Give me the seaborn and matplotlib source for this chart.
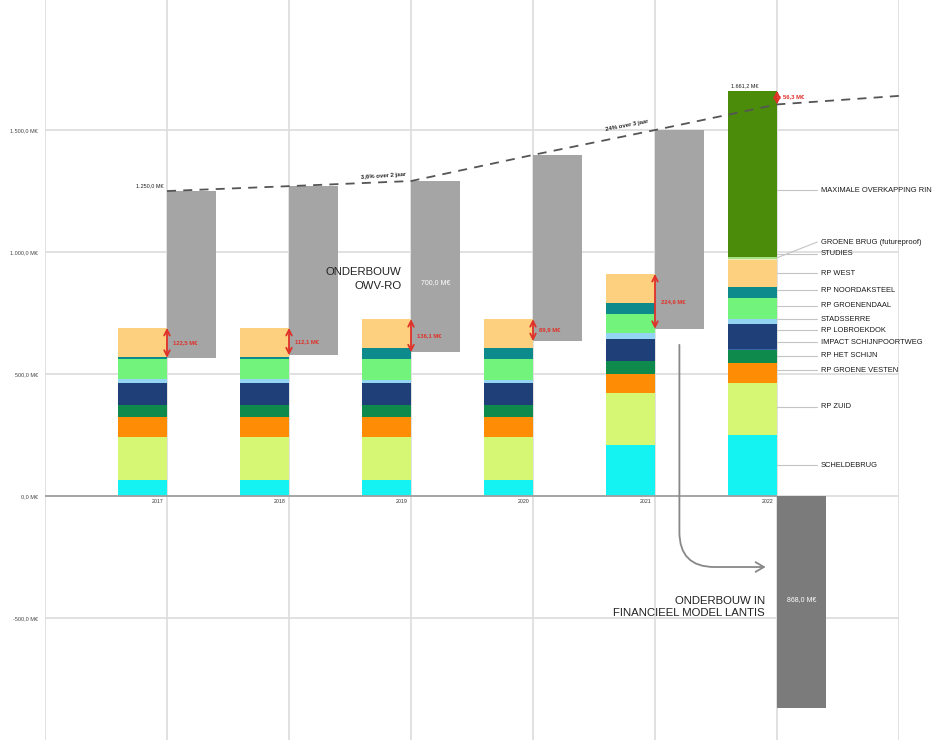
import matplotlib
matplotlib.use("Agg")
import matplotlib.pyplot as plt
import seaborn as sns
from matplotlib.patches import FancyArrowPatch

# data (M€)
years = ["2017", "2018", "2019", "2020", "2021", "2022"]
series = ["SCHELDEBRUG", "RP ZUID", "RP GROENE VESTEN", "RP HET SCHIJN",
          "IMPACT SCHIJNPOORTWEG", "RP LOBROEKDOK", "STADSSERRE", "RP GROENENDAAL",
          "RP NOORDAKSTEEL", "RP WEST", "STUDIES", "GROENE BRUG (futureproof)",
          "MAXIMALE OVERKAPPING RIN"]
scheldebrug = [66, 66, 66, 66, 209, 250]
rp_zuid = [176, 176, 176, 176, 213, 213]
groene_vesten = [82, 82, 82, 82, 78, 82]
het_schijn = [49, 49, 49, 49, 53, 52]
impact = [0, 0, 0, 0, 0, 5]
lobroekdok = [90, 90, 90, 90, 90, 103]
stadsserre = [17, 17, 12, 12, 25, 20]
groenendaal = [81, 81, 86, 86, 78, 86]
noordaksteel = [9, 9, 46, 46, 45, 46]
rp_west = [119, 119, 118, 118, 119, 110]
studies = [0, 0, 0, 0, 0, 6]
groene_brug = [0, 0, 0, 0, 0, 7]
overkapping = [0, 0, 0, 0, 0, 681]
values = [scheldebrug, rp_zuid, groene_vesten, het_schijn, impact, lobroekdok,
          stadsserre, groenendaal, noordaksteel, rp_west, studies, groene_brug,
          overkapping]

estimate_top = [1250, 1270, 1291, 1398, 1500]      # gray bars (2017-2021)
gap = [122.5, 112.1, 136.1, 89.9, 224.6, 56.3]      # red arrows
trend = [1250, 1270, 1291, 1398, 1500, 1605, 1640]  # dashed line
lantis = -868.0
total_2022 = 1661.2
onderbouw = 700.0

colors = ["#14f2f2", "#d5f773", "#ff8c05", "#0f8a4d", "#3b64a8", "#1f3f78",
          "#93d4f2", "#72f47c", "#0d8a8c", "#fcd07f", "#e9f0b0", "#a8e08a",
          "#4b8c0a"]
# label layout (y in data units) for the right-hand captions
label_y = [127, 365, 516, 574, 631, 680, 725, 779, 844, 914, 992, 1041, 1254]


def eur(v):
    s = f"{v:,.1f}".replace(",", "X").replace(".", ",").replace("X", ".")
    return s + " M€"


sns.set_theme(style="whitegrid")
plt.rcParams["font.family"] = ["Liberation Sans", "DejaVu Sans"]

fig = plt.figure(figsize=(9.47, 7.40), dpi=100)
ax = fig.add_axes([45 / 947, 0, 854 / 947, 1])

n = len(years)
stack_x = [i - 0.2 for i in range(n)]

# stacked bars: draw cumulative totals from the top down
cums = []
run = [0] * n
for v in values:
    run = [a + b for a, b in zip(run, v)]
    cums.append(run)
for k in range(len(values) - 1, -1, -1):
    sns.barplot(x=stack_x, y=cums[k], color=colors[k], width=0.4, native_scale=True,
                saturation=1, errorbar=None, linewidth=0, ax=ax)

totals = cums[-1]

# floating gray bars
for i in range(5):
    bottom = totals[i] - gap[i]
    ax.bar(i + 0.2, estimate_top[i] - bottom, bottom=bottom, width=0.4,
           color="#a5a5a5", linewidth=0, zorder=3)
ax.bar(5.2, lantis, width=0.4, color="#7b7b7b", linewidth=0, zorder=3)

# trend line
sns.lineplot(x=list(range(len(trend))), y=trend, color="#555555", lw=1.3,
             linestyle=(0, (5, 4)), ax=ax, zorder=4)

# red gap arrows
for i in range(6):
    top = totals[i] if i < 5 else total_2022
    ax.annotate("", xy=(i, top - gap[i]), xytext=(i, top),
                arrowprops=dict(arrowstyle="<->", color="#e03028", lw=1.3,
                                mutation_scale=10, shrinkA=0, shrinkB=0), zorder=5)
    ax.text(i + 0.05, top - gap[i] / 2 if i < 5 else 1638, eur(gap[i]),
            color="#e03028", fontsize=4.2, fontweight="bold", va="center", zorder=6)

# annotations
ax.text(-0.03, 1262, eur(trend[0]), fontsize=4, ha="right", va="bottom", color="#222222")
ax.text(4.62, 1672, eur(total_2022), fontsize=4, ha="left", va="bottom", color="#222222")
ax.text(1.77, 1311, "3,6% over 2 jaar", fontsize=4.3, fontweight="bold",
        rotation=4, ha="center", va="center")
ax.text(3.77, 1520, "24% over 3 jaar", fontsize=4.3, fontweight="bold",
        rotation=11, ha="center", va="center")
ax.text(1.92, 889, "ONDERBOUW\nOWV-RO", fontsize=8.2, ha="right", va="center",
        color="#222222", linespacing=1.55)
ax.text(2.2, 873, eur(onderbouw), fontsize=5, color="white", ha="center", va="center", zorder=6)
ax.text(5.2, -426, eur(-lantis), fontsize=5, color="white", ha="center", va="center", zorder=6)
ax.text(4.9, -455, "ONDERBOUW IN\nFINANCIEEL MODEL LANTIS", fontsize=8.2, ha="right",
        va="center", color="#222222", linespacing=1.25)

arrow = FancyArrowPatch((4.2, 631), (4.93, -291), arrowstyle="->,head_length=6,head_width=3.5",
                        connectionstyle="angle,angleA=90,angleB=0,rad=35",
                        color="#888888", lw=1.3, zorder=4)
ax.add_patch(arrow)

# right-hand captions with leader lines
for k, name in enumerate(series):
    seg_mid = cums[k][5] - values[k][5] / 2
    ax.plot([5.0, 5.33], [seg_mid if k in (11,) else label_y[k], label_y[k]],
            color="#c4c4c4", lw=0.8, clip_on=False, zorder=2)
    ax.text(5.36, label_y[k], name, fontsize=5.4, va="center", ha="left",
            color="#1a1a1a", clip_on=False)

# year labels
for i, y in enumerate(years):
    ax.text(i - 0.03, -12, y, fontsize=3.8, ha="right", va="top", color="#333333")

# zero line
ax.hlines(0, -1, 5, color="#a0a0a0", lw=1.3, zorder=2)

ax.set_xlim(-1, 6)
ax.set_ylim(-1000, 2033)
ax.set_xticks(range(-1, 7))
ax.set_xticklabels([])
yt = [-500, 0, 500, 1000, 1500]
ax.set_yticks(yt)
ax.set_yticklabels([eur(v) for v in yt], fontsize=4, color="#444444")
ax.tick_params(axis="y", length=0, pad=5)
ax.tick_params(axis="x", length=0)
ax.grid(True, color="#dedede", lw=1.3)
ax.set_axisbelow(True)
for s in ax.spines.values():
    s.set_visible(False)
ax.set_xlabel("")
ax.set_ylabel("")

fig.savefig("out.png", dpi=100)
